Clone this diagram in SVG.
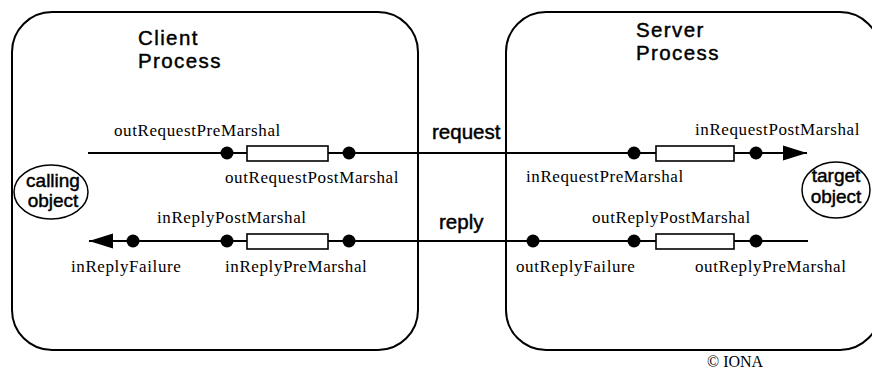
<svg xmlns="http://www.w3.org/2000/svg" width="872" height="374" viewBox="0 0 872 374">
  <style>
    .proc { fill: none; stroke: #000; stroke-width: 2; }
    .title { font-family: "Liberation Sans", Arial, sans-serif; font-size: 20.5px; letter-spacing: 1.4px; fill: #000; stroke: #000; stroke-width: 0.45; }
    .flow { font-family: "Liberation Sans", Arial, sans-serif; font-size: 20.5px; fill: #000; stroke: #000; stroke-width: 0.45; }
    .obj { font-family: "Liberation Sans", Arial, sans-serif; font-size: 19px; fill: #000; stroke: #000; stroke-width: 0.45; text-anchor: middle; }
    .hook { font-family: "Liberation Serif", "Times New Roman", serif; font-size: 17px; letter-spacing: 0.6px; fill: #000; }
    .copy { font-family: "Liberation Serif", "Times New Roman", serif; font-size: 16px; fill: #000; }
    .wire { fill: none; stroke: #000; stroke-width: 2; }
    .dot { fill: #000; }
    .buf { fill: #fff; stroke: #000; stroke-width: 1.6; }
    .ell { fill: #fff; stroke: #000; stroke-width: 1.5; }
  </style>
  <defs>
    <marker id="arrow" markerWidth="24" markerHeight="16" refX="24" refY="8" orient="auto" markerUnits="userSpaceOnUse">
      <path d="M0,0.5 L24,8 L0,15.5 Z" fill="#000"/>
    </marker>
  </defs>

  <!-- process boundaries -->
  <g id="client-process">
    <rect class="proc" x="12" y="12" width="406" height="338" rx="40" ry="40"/>
    <text class="title" x="138" y="45">Client</text>
    <text class="title" x="138" y="68">Process</text>
  </g>
  <g id="server-process">
    <rect class="proc" x="506" y="12" width="374" height="338" rx="40" ry="40"/>
    <text class="title" x="636" y="37">Server</text>
    <text class="title" x="636" y="60">Process</text>
  </g>

  <!-- end-point objects -->
  <g id="calling-object">
    <ellipse class="ell" cx="51" cy="192" rx="37" ry="27"/>
    <text class="obj" x="53" y="187">calling</text>
    <text class="obj" x="53" y="207">object</text>
  </g>
  <g id="target-object">
    <ellipse class="ell" cx="836" cy="190" rx="34" ry="28"/>
    <text class="obj" x="836" y="182">target</text>
    <text class="obj" x="836" y="203">object</text>
  </g>

  <!-- request and reply paths -->
  <g id="connectors">
    <line class="wire" x1="88" y1="153" x2="807" y2="153" marker-end="url(#arrow)"/>
    <line class="wire" x1="808" y1="241" x2="89" y2="241" marker-end="url(#arrow)"/>
    <text class="flow" x="432" y="139">request</text>
    <text class="flow" x="439" y="229">reply</text>
  </g>

  <!-- request interception points -->
  <g id="client-request">
    <rect class="buf" x="247" y="146" width="81" height="15"/>
    <circle class="dot" cx="227" cy="153" r="6.5"/>
    <circle class="dot" cx="349" cy="153" r="6.5"/>
    <text class="hook" x="114" y="136">outRequestPreMarshal</text>
    <text class="hook" x="225" y="183">outRequestPostMarshal</text>
  </g>
  <g id="server-request">
    <rect class="buf" x="656" y="146" width="78" height="15"/>
    <circle class="dot" cx="634" cy="153" r="6.5"/>
    <circle class="dot" cx="756" cy="153" r="6.5"/>
    <text class="hook" x="695" y="135">inRequestPostMarshal</text>
    <text class="hook" x="526" y="182">inRequestPreMarshal</text>
  </g>

  <!-- reply interception points -->
  <g id="client-reply">
    <rect class="buf" x="247" y="234" width="81" height="15"/>
    <circle class="dot" cx="133" cy="241" r="6.5"/>
    <circle class="dot" cx="227" cy="241" r="6.5"/>
    <circle class="dot" cx="349" cy="241" r="6.5"/>
    <text class="hook" x="157" y="223">inReplyPostMarshal</text>
    <text class="hook" x="71" y="272">inReplyFailure</text>
    <text class="hook" x="225" y="272">inReplyPreMarshal</text>
  </g>
  <g id="server-reply">
    <rect class="buf" x="656" y="234" width="78" height="15"/>
    <circle class="dot" cx="533" cy="241" r="6.5"/>
    <circle class="dot" cx="634" cy="241" r="6.5"/>
    <circle class="dot" cx="756" cy="241" r="6.5"/>
    <text class="hook" x="592" y="223">outReplyPostMarshal</text>
    <text class="hook" x="516" y="272">outReplyFailure</text>
    <text class="hook" x="695" y="272">outReplyPreMarshal</text>
  </g>

  <text class="copy" x="707" y="367">© IONA</text>
</svg>
